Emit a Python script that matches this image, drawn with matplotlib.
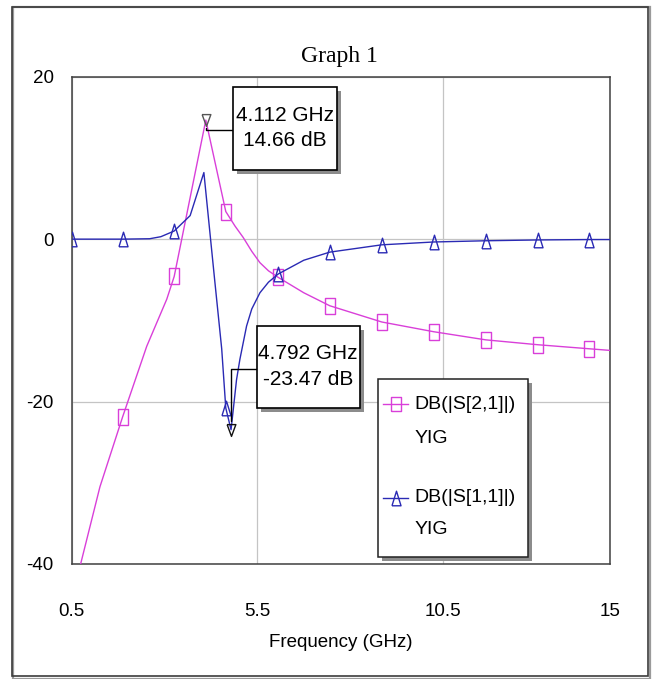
import matplotlib
matplotlib.use('Agg')
import matplotlib.pyplot as plt
import matplotlib.patheffects as pe
from matplotlib.patches import Rectangle
from matplotlib.lines import Line2D

plt.rcParams['axes.unicode_minus'] = False

# ---- data ----
s21_freq = [0.5, 0.74, 1.26, 1.87, 2.52, 3.06, 3.26, 4.112, 4.65, 4.9, 5.12,
            5.35, 5.57, 5.8, 6.06, 6.75, 7.45, 8.85, 10.25, 11.65, 13.05,
            14.44, 15.0]
s21_db = [-44.5, -40.0, -30.5, -21.9, -13.2, -7.4, -4.6, 14.66, 3.4, 1.6, 0.2,
          -1.5, -2.9, -3.9, -4.7, -6.6, -8.2, -10.2, -11.4, -12.4, -13.0,
          -13.5, -13.7]

s11_freq = [0.5, 1.87, 2.6, 2.9, 3.26, 3.69, 4.06, 4.35, 4.54, 4.65, 4.792,
            4.94, 5.03, 5.21, 5.35, 5.57, 5.8, 6.06, 6.75, 7.45, 8.85, 10.25,
            11.65, 13.05, 14.44, 15.0]
s11_db = [0.0, 0.0, 0.05, 0.3, 1.0, 2.9, 8.2, -5.0, -13.5, -20.8, -23.47,
          -17.3, -14.8, -10.7, -8.6, -6.6, -5.3, -4.3, -2.6, -1.6, -0.7, -0.35,
          -0.2, -0.1, -0.05, -0.05]

marker_freq = [0.5, 1.87, 3.26, 4.65, 6.06, 7.45, 8.85, 10.25, 11.65, 13.05, 14.44]

peak = (4.112, 14.66)
notch = (4.792, -23.47)

x_ticks = [0.5, 5.5, 10.5, 15]
x_labels = ['0.5', '5.5', '10.5', '15']
y_ticks = [-40, -20, 0, 20]

legend_names = ['DB(|S[2,1]|)', 'DB(|S[1,1]|)']
legend_sub = 'YIG'

# ---- style ----
SANS = ['Liberation Sans', 'DejaVu Sans']
MAGENTA = '#d93fd9'
BLUE = '#2a2ab4'

sq = [(-0.33, -0.5), (0.33, -0.5), (0.33, 0.5), (-0.33, 0.5), (-0.33, -0.5)]
tri_up = [(-0.31, -0.5), (0.31, -0.5), (0.0, 0.5), (-0.31, -0.5)]
tri_dn = [(-0.37, 0.5), (0.37, 0.5), (0.0, -0.5), (-0.37, 0.5)]

fig = plt.figure(figsize=(6.52, 6.79), dpi=100)
fig.patch.set_facecolor('white')

# outer frame with a little shadow
fig.add_artist(Rectangle((0.0205, 0.0), 0.977, 0.9897, transform=fig.transFigure,
                         fill=False, ec='#9a9a9a', lw=1.6))
fig.add_artist(Rectangle((0.0184, 0.0044), 0.9755, 0.9853, transform=fig.transFigure,
                         fill=False, ec='#3c3c3c', lw=1.2))

ax = fig.add_axes([0.110, 0.1694, 0.8256, 0.7176])


def idx(freqs):
    return [i for i, f in enumerate(freqs) if f in marker_freq]


ax.plot(s21_freq, s21_db, color=MAGENTA, lw=1.0, marker=sq, ms=11,
        mfc='none', mec=MAGENTA, mew=1.0, markevery=idx(s21_freq), zorder=3)
ax.plot(s11_freq, s11_db, color=BLUE, lw=1.0, marker=tri_up, ms=10.5,
        mfc='none', mec=BLUE, mew=1.0, markevery=idx(s11_freq), zorder=3)

ax.plot(*peak, marker=tri_dn, ms=8.5, mfc='none', mec='#555555', mew=1.0, zorder=4)
ax.plot(*notch, marker=tri_dn, ms=8.5, mfc='none', mec='#111111', mew=1.0, zorder=4)

ax.set_xlim(0.5, 15)
ax.set_ylim(-40, 20)
ax.set_xticks(x_ticks)
ax.set_xticklabels(x_labels)
ax.set_yticks(y_ticks)
ax.tick_params(length=0, labelsize=13.5, colors='black')
ax.tick_params(axis='x', pad=28)
ax.tick_params(axis='y', pad=13)
for lab in ax.get_xticklabels() + ax.get_yticklabels():
    lab.set_family(SANS)
ax.grid(True, color='#c4c4c4', lw=0.9)
ax.set_axisbelow(True)
for s in ax.spines.values():
    s.set_color('#404040')
    s.set_linewidth(1.1)

ax.set_xlabel('Frequency (GHz)', family=SANS, fontsize=13.5, labelpad=10)
fig.text(0.52, 0.917, 'Graph 1', family='Liberation Serif', fontsize=17,
         ha='center', va='center')

shadow = [pe.withSimplePatchShadow(offset=(3, -3), shadow_rgbFace='#8c8c8c', alpha=1.0)]

# marker readout boxes: box (pixels, relative to the marked point) + connector + text
for pt, (cx, cy, w, h) in [(peak, (79, -8, 104, 83)), (notch, (77, 63, 103, 82))]:
    px, py = ax.transData.transform(pt)
    r = Rectangle((px + cx - w / 2, py + cy - h / 2), w, h, transform=None,
                  fc='white', ec='black', lw=1.2, zorder=5, clip_on=False)
    r.set_path_effects(shadow)
    fig.add_artist(r)
    ax.annotate('', xy=pt, xytext=(px + cx - w / 2, py + cy - 2), textcoords='figure pixels',
                arrowprops=dict(arrowstyle='-', color='black', lw=1.0,
                                connectionstyle='angle,angleA=0,angleB=90,rad=0',
                                shrinkA=0, shrinkB=6), zorder=4)
    fig.text(px + cx, py + cy, f'{pt[0]:.3f} GHz\n{pt[1]:.2f} dB', transform=None,
             ha='center', va='center', fontsize=15, family=SANS,
             linespacing=1.45, zorder=6)

# legend drawn by hand to keep the two-line labels like the original
leg = Rectangle((0.569, 0.0144), 0.279, 0.3653, transform=ax.transAxes,
                fc='white', ec='#222222', lw=1.1, zorder=6)
leg.set_path_effects(shadow)
ax.add_patch(leg)
for name, col, mk, y1, y2 in [(legend_names[0], MAGENTA, sq, 0.3283, 0.2565),
                              (legend_names[1], BLUE, tri_up, 0.1361, 0.0698)]:
    ax.add_line(Line2D([0.5789, 0.6015, 0.6253], [y1, y1, y1], transform=ax.transAxes,
                       color=col, lw=1.0, marker=mk, ms=10.5, mfc='none', mec=col,
                       markevery=[1], zorder=7))
    ax.text(0.636, y1, name, transform=ax.transAxes, family=SANS, fontsize=14,
            va='center', ha='left', zorder=7)
    ax.text(0.636, y2, legend_sub, transform=ax.transAxes, family=SANS, fontsize=14,
            va='center', ha='left', zorder=7)

fig.savefig('out.png', dpi=100)
